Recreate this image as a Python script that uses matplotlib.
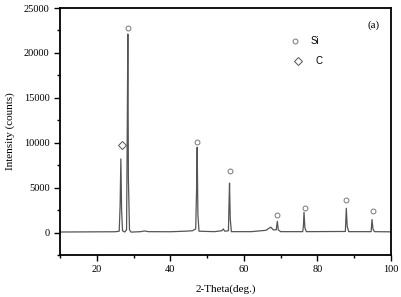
import matplotlib
matplotlib.use("Agg")
import matplotlib.pyplot as plt
from matplotlib.ticker import MultipleLocator

# XRD pattern (2-theta, intensity)
two_theta = [10, 15, 20, 25, 26.1, 26.35, 26.55, 26.75, 27.0, 27.6, 28.1, 28.3, 28.45, 28.6, 28.9, 29.3,
             32, 33, 34, 40, 44, 46, 46.9, 47.15, 47.3, 47.5, 47.8, 52, 54, 54.4, 54.8, 55.8, 55.95,
             56.1, 56.3, 56.6, 62, 66, 67.3, 68, 68.8, 69.1, 69.35, 70, 76, 76.2, 76.35, 76.6, 77,
             87.6, 87.85, 88.1, 88.5, 94.6, 94.85, 95.1, 95.5, 100]
intensity = [60, 70, 80, 90, 150, 3000, 8200, 2500, 200, 60, 300, 12000, 22100, 6000, 300, 50,
             100, 180, 100, 90, 150, 200, 400, 5000, 9500, 2000, 150, 100, 200, 400, 150, 200, 3000,
             5500, 1500, 100, 100, 250, 600, 300, 300, 1250, 300, 100, 100, 800, 2250, 500, 100,
             120, 2700, 700, 100, 100, 1450, 400, 100, 80]

si_x = [28.4, 47.3, 56.2, 68.9, 76.5, 87.9, 95.0]
si_y = [22800, 10100, 6800, 2000, 2700, 3600, 2350]
c_x = [26.9]
c_y = [9700]

fig = plt.figure(figsize=(4.01, 2.97), dpi=100)
ax = fig.add_axes([0.1496, 0.1414, 0.8254, 0.8316])
serif = "Liberation Serif"

ax.plot(two_theta, intensity, color="#555555", lw=0.9)
ax.plot(si_x, si_y, ls="none", marker="o", ms=3.5, mfc="white", mec="#777777", mew=0.7)
ax.plot(c_x, c_y, ls="none", marker="D", ms=4.5, mfc="white", mec="#555555", mew=0.7)

ax.set_xlim(10, 100)
ax.set_ylim(-2500, 25000)
ax.xaxis.set_major_locator(MultipleLocator(20))
ax.xaxis.set_minor_locator(MultipleLocator(10))
ax.yaxis.set_major_locator(MultipleLocator(5000))
ax.yaxis.set_minor_locator(MultipleLocator(2500))
ax.tick_params(which="both", direction="out", top=False, right=False, width=1.0)
ax.tick_params(which="major", length=4, labelsize=7.5)
ax.tick_params(which="minor", length=2.5)
for lab in ax.get_xticklabels() + ax.get_yticklabels():
    lab.set_fontfamily(serif)
for s in ax.spines.values():
    s.set_linewidth(1.3)

ax.set_xlabel("2-Theta(deg.)", fontfamily=serif, fontsize=8, labelpad=7)
ax.set_ylabel("Intensity (counts)", fontfamily=serif, fontsize=8, labelpad=6)

# legend drawn manually
ax.plot([0.709], [0.865], transform=ax.transAxes, marker="o", ms=3.5, mfc="white", mec="#777777", mew=0.7)
ax.plot([0.718], [0.785], transform=ax.transAxes, marker="D", ms=4.5, mfc="white", mec="#555555", mew=0.7)
ax.text(0.758, 0.865, "Si", transform=ax.transAxes, fontfamily="Liberation Sans", fontsize=7, va="center")
ax.text(0.773, 0.785, "C", transform=ax.transAxes, fontfamily="Liberation Sans", fontsize=7, va="center")
ax.text(0.93, 0.93, "(a)", transform=ax.transAxes, fontfamily=serif, fontsize=8, va="center")

fig.savefig("out.png", dpi=100)
